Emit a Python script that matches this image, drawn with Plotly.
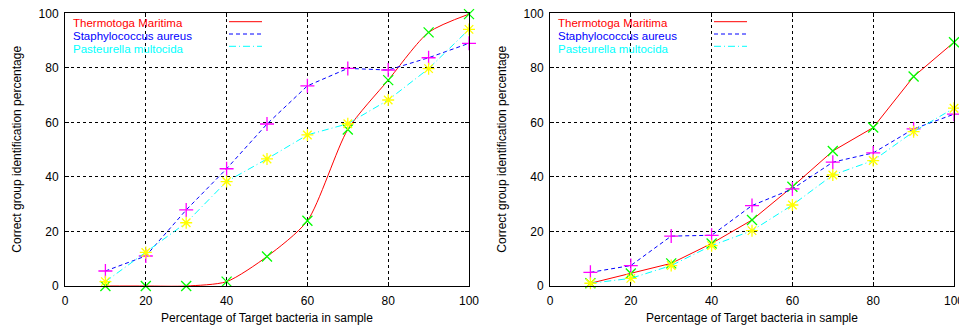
import plotly.graph_objects as go

# Percentage of target bacteria in the sample
target_pct = [10, 20, 30, 40, 50, 60, 70, 80, 90, 100]

series_names = ["Thermotoga Maritima", "Staphylococcus aureus", "Pasteurella multocida"]

# Left panel: correct group identification percentage
left_thermotoga = [0, 0, 0, 1.6, 10.8, 23.9, 57.4, 75.5, 93.0, 99.7]
left_staph = [5.5, 11.0, 27.9, 43.0, 59.4, 73.4, 79.8, 79.2, 83.7, 89.0]
left_pasteurella = [1.6, 12.3, 23.2, 38.3, 46.6, 55.4, 59.5, 68.2, 79.7, 94.1]

# Right panel
right_thermotoga = [1.0, 4.6, 8.3, 15.6, 24.2, 36.4, 49.5, 58.1, 76.8, 89.4]
right_staph = [5.0, 7.5, 18.3, 18.6, 29.5, 35.6, 45.4, 48.8, 57.6, 63.0]
right_pasteurella = [1.0, 2.8, 7.5, 14.8, 20.3, 29.7, 40.7, 46.0, 56.6, 65.2]

axis_ticks = [0, 20, 40, 60, 80, 100]
x_title = "Percentage of Target bacteria in sample"
y_title = "Correct group identification percentage"

W, H = 959, 329
FONT = "Liberation Sans, Arial, Helvetica, sans-serif"

line_colors = ["#ff0000", "#0000ff", "#00ffff"]
line_dashes = ["solid", "4px,3px", "7px,3px,1px,3px"]
marker_colors = ["#00ff00", "#ff00ff", "#ffff00"]
marker_symbols = ["x-thin", "cross-thin", "asterisk"]

# pixel layout of the two panels
panels = [
    {"x0": 65, "x1": 469, "data": [left_thermotoga, left_staph, left_pasteurella],
     "shapes": ["spline", "linear", "linear"]},
    {"x0": 550, "x1": 954, "data": [right_thermotoga, right_staph, right_pasteurella],
     "shapes": ["linear", "linear", "linear"]},
]
plot_top, plot_bottom = 13.3, 286


def px(x):
    return x / W


def py(y):
    return 1 - y / H


fig = go.Figure()
annotations = []
shapes = []

for i, p in enumerate(panels):
    xa = "x" if i == 0 else "x2"
    ya = "y" if i == 0 else "y2"
    for k in range(3):
        fig.add_trace(go.Scatter(
            x=target_pct, y=p["data"][k], xaxis=xa, yaxis=ya,
            mode="lines+markers", name=series_names[k], showlegend=False,
            line=dict(color=line_colors[k], width=1, dash=line_dashes[k],
                      shape=p["shapes"][k], smoothing=0.7),
            marker=dict(symbol=marker_symbols[k], size=10, color=marker_colors[k],
                        line=dict(color=marker_colors[k], width=1.3)),
            cliponaxis=False,
        ))

    axis_common = dict(
        range=[0, 100], tickvals=axis_ticks, showline=True, linecolor="black",
        linewidth=1, mirror="allticks", ticks="inside", ticklen=4, tickcolor="black",
        showgrid=True, gridcolor="black", griddash="dot", gridwidth=1,
        zeroline=False, tickfont=dict(family=FONT, size=12, color="black"),
        automargin=False, ticklabeloverflow="allow",
    )
    xkey = "xaxis" if i == 0 else "xaxis2"
    ykey = "yaxis" if i == 0 else "yaxis2"
    fig.update_layout(**{
        xkey: dict(axis_common, domain=[px(p["x0"]), px(p["x1"])], anchor=ya,
                   ticklabelstandoff=4),
        ykey: dict(axis_common, domain=[py(plot_bottom), py(plot_top)], anchor=xa,
                   ticklabelstandoff=3),
    })

    # axis titles
    annotations.append(dict(
        text=x_title, x=px((p["x0"] + p["x1"]) / 2), y=py(318), xref="paper", yref="paper",
        xanchor="center", yanchor="middle", showarrow=False,
        font=dict(family=FONT, size=12, color="black")))
    annotations.append(dict(
        text=y_title, x=px(p["x0"] - 48), y=py((plot_top + plot_bottom) / 2),
        xref="paper", yref="paper", textangle=-90,
        xanchor="center", yanchor="middle", showarrow=False,
        font=dict(family=FONT, size=12, color="black")))

    # key: coloured labels with a line sample to their right
    for k in range(3):
        ty = 23.3 + 13.0 * k
        annotations.append(dict(
            text=series_names[k], x=px(p["x0"] + 7), y=py(ty), xref="paper", yref="paper",
            xanchor="left", yanchor="middle", showarrow=False, borderpad=0,
            font=dict(family=FONT, size=11.5, color=line_colors[k])))
        ly = 21.7 + 12.3 * k
        shapes.append(dict(
            type="line", xref="paper", yref="paper",
            x0=px(p["x0"] + 164), x1=px(p["x0"] + 197), y0=py(ly), y1=py(ly),
            line=dict(color=line_colors[k], width=1,
                      dash=line_dashes[k] if k else "solid")))

fig.update_layout(
    width=W, height=H, margin=dict(l=0, r=0, t=0, b=0),
    paper_bgcolor="white", plot_bgcolor="white",
    annotations=annotations, shapes=shapes, showlegend=False,
)

fig.write_html("out.html")
